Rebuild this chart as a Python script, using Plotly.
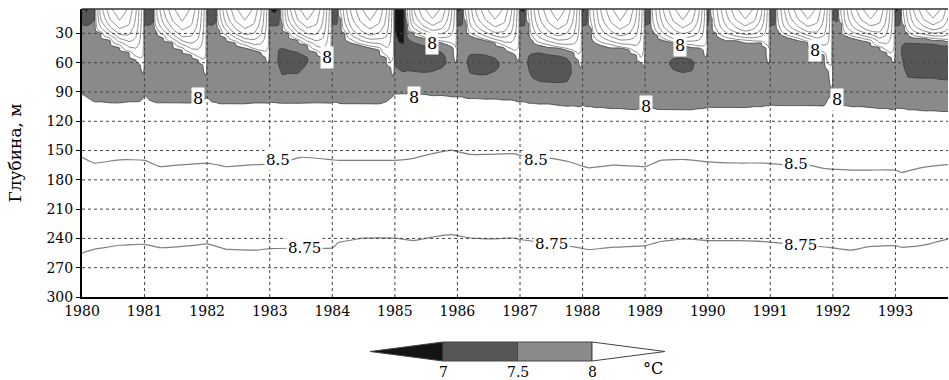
import numpy as np
import plotly.graph_objects as go

# ---------------- data ----------------
years = list(range(1980, 1994))
phase = [0.0, 0.07, 0.14, 0.2, 0.3, 0.45, 0.6, 0.75, 0.86, 0.93, 0.975]

# surface (5 m) temperature, degC, one row per year, one value per phase
sst = [
    [7.1, 6.9, 7.2, 7.4, 15.5, 21, 23.5, 21, 17, 13, 10],
    [7.1, 7.0, 7.3, 12, 16.5, 21, 23.5, 21, 17, 13, 10],
    [7.2, 7.0, 7.3, 11.5, 16.5, 21, 23.5, 21, 17, 13, 10],
    [7.0, 6.85, 7.0, 8.6, 15.5, 21, 23.5, 21, 17, 13, 10],
    [7.2, 7.1, 9.5, 13, 17, 21, 23.5, 21, 17, 13, 10],
    [6.7, 6.6, 6.8, 9, 16.5, 21, 23.5, 21, 17, 13, 10],
    [6.9, 7.0, 9.5, 13, 17, 21, 23.5, 21, 17, 13, 10],
    [6.95, 6.9, 9.5, 13, 17, 21, 23.5, 21, 17, 13, 10],
    [6.9, 7.1, 10, 13, 17, 21, 23.5, 21, 17, 13, 10],
    [7.1, 7.2, 10, 13, 17, 21, 23.5, 21, 17, 13, 10],
    [7.0, 8.5, 11, 13.5, 17, 21, 23.5, 21, 17, 13, 10],
    [7.0, 7.1, 10, 13, 17, 21, 23.5, 21, 17, 13, 10],
    [7.4, 7.3, 9.5, 13, 17, 21, 23.5, 21, 17, 13, 10],
    [6.9, 7.0, 9.5, 13, 17, 21, 23.5, 21, 17, 13, 10],
]
# depth of the upper 8 degC isotherm (0 = surface already below 8)
d8_top = [
    [0, 0, 0, 0, 30, 36, 43, 50, 56, 61, 71],
    [0, 0, 0, 28, 33, 40, 46, 52, 57, 62, 73],
    [0, 0, 0, 26, 33, 39, 43, 47, 50, 53, 60],
    [0, 0, 0, 20, 30, 37, 42, 49, 55, 58, 63],
    [0, 0, 15, 30, 38, 42, 44, 46, 55, 65, 74],
    [0, 0, 0, 20, 30, 34, 37, 39, 41, 45, 60],
    [0, 0, 18, 32, 34, 37, 40, 44, 48, 52, 58],
    [0, 0, 20, 36, 41, 43, 45, 47, 50, 56, 65],
    [0, 0, 25, 38, 41, 43, 45, 47, 52, 60, 63],
    [0, 0, 28, 32, 37, 40, 42, 43, 45, 47, 54],
    [0, 15, 30, 34, 36, 37, 38, 39, 40, 45, 61],
    [0, 0, 28, 32, 34, 36, 39, 45, 52, 68, 86],
    [0, 0, 20, 32, 34, 36, 38, 45, 50, 55, 60],
    [0, 0, 22, 30, 34, 35, 36, 37, 38, 40, 45],
]
# cold intermediate layer: minimum temperature and its depth
t_min = [
    [7.65, 7.65, 7.65, 7.65, 7.7, 7.7, 7.7, 7.7, 7.7, 7.7, 7.75],
    [7.65, 7.65, 7.65, 7.7, 7.7, 7.7, 7.7, 7.7, 7.7, 7.7, 7.75],
    [7.65, 7.65, 7.65, 7.7, 7.7, 7.7, 7.7, 7.7, 7.7, 7.7, 7.7],
    [7.65, 7.65, 7.45, 7.25, 7.25, 7.25, 7.45, 7.7, 7.7, 7.7, 7.7],
    [7.7, 7.65, 7.7, 7.7, 7.7, 7.7, 7.7, 7.7, 7.7, 7.7, 7.75],
    [7.2, 7.1, 7.05, 7.05, 7.05, 7.05, 7.15, 7.3, 7.55, 7.7, 7.7],
    [7.65, 7.65, 7.55, 7.3, 7.25, 7.25, 7.35, 7.6, 7.7, 7.7, 7.7],
    [7.65, 7.6, 7.4, 7.2, 7.05, 7.05, 7.05, 7.15, 7.6, 7.7, 7.7],
    [7.6, 7.65, 7.7, 7.7, 7.7, 7.7, 7.7, 7.7, 7.7, 7.7, 7.7],
    [7.65, 7.65, 7.7, 7.7, 7.6, 7.4, 7.35, 7.4, 7.6, 7.7, 7.7],
    [7.6, 7.7, 7.7, 7.7, 7.7, 7.7, 7.7, 7.7, 7.7, 7.7, 7.7],
    [7.6, 7.65, 7.7, 7.7, 7.7, 7.7, 7.7, 7.7, 7.7, 7.8, 8.05],
    [7.7, 7.7, 7.7, 7.7, 7.7, 7.7, 7.7, 7.7, 7.7, 7.7, 7.7],
    [7.6, 7.55, 7.3, 7.1, 7.05, 7.05, 7.05, 7.05, 7.05, 7.1, 7.2],
]
d_min = [
    [30, 30, 30, 30, 60, 62, 66, 70, 74, 78, 84],
    [30, 30, 30, 60, 62, 65, 68, 72, 75, 78, 86],
    [30, 30, 30, 60, 62, 65, 68, 70, 72, 75, 80],
    [30, 30, 58, 58, 56, 56, 56, 65, 70, 75, 80],
    [30, 30, 55, 60, 62, 65, 66, 68, 72, 78, 86],
    [45, 48, 50, 48, 48, 50, 52, 54, 60, 65, 75],
    [30, 30, 58, 60, 60, 60, 60, 65, 70, 72, 78],
    [30, 30, 60, 60, 58, 60, 60, 62, 70, 75, 82],
    [30, 30, 60, 62, 65, 66, 68, 70, 72, 78, 82],
    [30, 30, 60, 62, 62, 59, 59, 60, 70, 72, 78],
    [30, 55, 60, 62, 62, 62, 62, 62, 65, 70, 80],
    [30, 30, 60, 62, 62, 62, 64, 66, 70, 80, 91],
    [30, 30, 55, 60, 62, 62, 64, 66, 70, 72, 78],
    [30, 40, 48, 48, 46, 46, 46, 48, 48, 50, 52],
]
# depth of the lower 8 degC isotherm
d8_bot = [
    [92, 95, 98, 100, 100, 101, 101, 100, 100, 99, 96],
    [93, 98, 100, 101, 101, 101, 101, 101, 100, 98, 96],
    [96, 100, 101, 102, 102, 102, 102, 101, 101, 101, 101],
    [101, 101, 101, 101, 101, 101, 101, 101, 101, 101, 101],
    [101, 101, 102, 102, 102, 102, 102, 102, 100, 96, 93],
    [92, 91, 91, 91, 92, 92, 93, 93, 94, 95, 95],
    [95, 95, 96, 96, 96, 97, 97, 98, 98, 99, 100],
    [100, 100, 101, 101, 102, 102, 103, 104, 104, 105, 105],
    [104, 105, 105, 106, 106, 107, 107, 108, 108, 107, 106],
    [106, 106, 107, 108, 108, 108, 108, 108, 107, 107, 106],
    [106, 106, 106, 106, 106, 106, 106, 105, 105, 104, 104],
    [104, 104, 104, 104, 104, 104, 104, 104, 104, 96, 96],
    [100, 103, 104, 104, 105, 105, 106, 107, 107, 108, 108],
    [107, 107, 107, 108, 108, 109, 109, 110, 110, 110, 110],
]
# shape of the warm upper layer (fraction of depth -> fraction of excess temp)
upper_frac = [0.0, 0.35, 0.65, 0.85, 1.0]
upper_share = [1.0, 0.85, 0.6, 0.3, 0.0]
winter_shoulder = (25, 7.6)

# deep isotherms 8.5 and 8.75
t_deep = [1980.0, 1980.2, 1980.6, 1981.0, 1981.25, 1981.8, 1982.0, 1982.3, 1982.8,
          1983.0, 1983.5, 1984.0, 1984.1, 1984.5, 1985.0, 1985.3, 1985.6, 1985.9,
          1986.2, 1986.5, 1986.9, 1987.0, 1987.5, 1987.8, 1988.1, 1988.5, 1989.0,
          1989.25, 1989.65, 1990.0, 1990.5, 1990.9, 1991.2, 1991.6, 1991.9, 1992.3,
          1992.6, 1993.0, 1993.1, 1993.4, 1993.85]
d85 = [156, 162, 159, 160, 166, 163, 162, 166, 164, 163, 156, 159, 160, 160, 160,
       157, 152, 149, 153, 153, 152, 154.5, 157, 161, 167, 165, 166, 160, 158.6,
       161, 162, 162, 164, 165, 168, 170, 170, 170, 172, 167, 164]
d875 = [255, 251, 247, 246, 249.5, 247, 245.6, 251, 252, 250.4, 250, 249.7, 244,
        239.5, 239.5, 242, 238.5, 236, 239.5, 240.5, 239.5, 241, 245, 248, 251.4,
        249, 247.3, 243, 240.5, 242, 242, 243, 245, 247, 249, 252, 248, 247.3, 249,
        247.3, 240.5]

# contour labels (time, depth)
lab8_t = [1981.86, 1983.92, 1985.6, 1985.3, 1989.55, 1989.02, 1991.72, 1992.06]
lab8_d = [97, 55, 40, 96, 42, 105, 48, 98]
lab85_t = [1983.14, 1987.26, 1991.41]
lab85_d = [160, 160, 164]
lab875_t = [1983.55, 1987.5, 1991.48]
lab875_d = [250, 246, 247]

depth_ticks = [30, 60, 90, 120, 150, 180, 210, 240, 270, 300]
cbar_levels = [7, 7.5, 8]
cbar_colors = ["#141414", "#565656", "#8a8a8a", "#ffffff"]

# ---------------- build grids ----------------
depth_up = np.arange(5, 131, 2.5)
cols_t, cols_z = [], []
for i, yr in enumerate(years):
    for j, p in enumerate(phase):
        s, du = sst[i][j], d8_top[i][j]
        tm, dm, dl = t_min[i][j], d_min[i][j], d8_bot[i][j]
        if du > 0:
            pdp = [5 + f * (du - 5) for f in upper_frac]
            ptv = [8 + sh * (s - 8) for sh in upper_share]
        else:
            pdp, ptv = [5], [s]
            if tm >= 7.25:
                pdp.append(winter_shoulder[0])
                ptv.append(winter_shoulder[1])
        pdp += [dm, dl, 130]
        ptv += [tm, 8.0, 8.2]
        cols_t.append(yr + p)
        cols_z.append(np.interp(depth_up, pdp, ptv))
Z = np.array(cols_z).T

depth_deep = np.arange(110, 301, 5)
Zd = np.array([np.interp(depth_deep, [110, a, b, 300], [8.2, 8.5, 8.75, 8.9])
               for a, b in zip(d85, d875)]).T

SERIF = "DejaVu Serif"
fig = go.Figure()

fig.add_trace(go.Contour(
    x=cols_t, y=depth_up, z=Z,
    contours=dict(start=cbar_levels[0], end=cbar_levels[-1], size=0.5,
                  coloring="fill", showlines=True),
    colorscale=[[0, cbar_colors[0]], [0.25, cbar_colors[0]], [0.25, cbar_colors[1]],
                [0.5, cbar_colors[1]], [0.5, cbar_colors[2]], [0.75, cbar_colors[2]],
                [0.75, cbar_colors[3]], [1, cbar_colors[3]]],
    line=dict(color="#3a3a3a", width=0.8, smoothing=0.8),
    showscale=False, hoverinfo="skip",
))
fig.add_trace(go.Contour(
    x=cols_t, y=depth_up, z=Z,
    contours=dict(start=9, end=21.5, size=2.5, coloring="none"),
    line=dict(color="#8a8a8a", width=1, smoothing=0.8),
    showscale=False, hoverinfo="skip",
))
fig.add_trace(go.Contour(
    x=t_deep, y=depth_deep, z=Zd,
    contours=dict(start=8.5, end=8.75, size=0.25, coloring="none"),
    line=dict(color="#808080", width=1.2, smoothing=0.5),
    showscale=False, hoverinfo="skip",
))

# dashed grid above the fills
shapes = []
for yr in years[1:]:
    shapes.append(dict(type="line", xref="x", yref="paper", x0=yr, x1=yr, y0=0, y1=1,
                       line=dict(color="#444", width=1, dash="dot"), layer="above"))
for d in depth_ticks[:-1]:
    shapes.append(dict(type="line", xref="paper", yref="y", x0=0, x1=1, y0=d, y1=d,
                       line=dict(color="#444", width=1, dash="dot"), layer="above"))
# thin top frame line
shapes.append(dict(type="line", xref="paper", yref="paper", x0=0, x1=1, y0=1, y1=1,
                   line=dict(color="#333", width=1.5), layer="above"))

# ---- colour key drawn below the plot (pixel geometry -> paper coords) ----
PL, PR, PT, PB = 82, 948, 9, 297
def px(xp):
    return (xp - PL) / (PR - PL)
def py(yp):
    return (PB - yp) / (PB - PT)
kx0, kstep = 443, 74.5          # pixel of first level, pixels per 0.5 degC
ytop, ybot, ymid = 342, 361, 351.5
kxs = [kx0 + kstep * (lv - cbar_levels[0]) / 0.5 for lv in cbar_levels]
outline = dict(color="#444", width=1)
shapes.append(dict(type="path", xref="paper", yref="paper",
                   path=f"M {px(kxs[0] - 73)},{py(ymid)} L {px(kxs[0])},{py(ytop)} L {px(kxs[0])},{py(ybot)} Z",
                   fillcolor=cbar_colors[0], line=outline, layer="above"))
for k in range(len(cbar_levels) - 1):
    shapes.append(dict(type="rect", xref="paper", yref="paper",
                       x0=px(kxs[k]), x1=px(kxs[k + 1]), y0=py(ybot), y1=py(ytop),
                       fillcolor=cbar_colors[k + 1], line=outline, layer="above"))
shapes.append(dict(type="path", xref="paper", yref="paper",
                   path=f"M {px(kxs[-1] + 73)},{py(ymid)} L {px(kxs[-1])},{py(ytop)} L {px(kxs[-1])},{py(ybot)} Z",
                   fillcolor=cbar_colors[3], line=outline, layer="above"))

annotations = []
for lv, xk in zip(cbar_levels, kxs):
    annotations.append(dict(x=px(xk), y=py(371.5), xref="paper", yref="paper",
                            xanchor="center", yanchor="middle",
                            text=f"{lv:g}", showarrow=False,
                            font=dict(family=SERIF, size=14, color="black")))
annotations.append(dict(x=px(653), y=py(368), xref="paper", yref="paper", text="°C",
                        xanchor="center", yanchor="middle",
                        showarrow=False, font=dict(family=SERIF, size=16, color="black")))

for t, d in zip(lab8_t, lab8_d):
    annotations.append(dict(x=t, y=d, xref="x", yref="y", text="8", showarrow=False,
                            bgcolor="white", borderpad=1,
                            font=dict(family=SERIF, size=16, color="black")))
for t, d in zip(lab85_t, lab85_d):
    annotations.append(dict(x=t, y=d, xref="x", yref="y", text="8.5", showarrow=False,
                            bgcolor="white", borderpad=1,
                            font=dict(family=SERIF, size=15, color="black")))
for t, d in zip(lab875_t, lab875_d):
    annotations.append(dict(x=t, y=d, xref="x", yref="y", text="8.75", showarrow=False,
                            bgcolor="white", borderpad=1,
                            font=dict(family=SERIF, size=15, color="black")))

fig.update_layout(
    width=949, height=380,
    margin=dict(l=PL, r=949 - PR, t=PT, b=380 - PB),
    plot_bgcolor="white", paper_bgcolor="white",
    font=dict(family=SERIF, size=14, color="black"),
    showlegend=False, shapes=shapes, annotations=annotations,
)
fig.update_xaxes(range=[1980, 1993.84], tickvals=years, ticktext=[str(y) for y in years],
                 showgrid=False, zeroline=False, showline=True, linecolor="black",
                 linewidth=2, ticks="", tickfont=dict(family=SERIF, size=14))
fig.update_yaxes(range=[300, 5], tickvals=depth_ticks, showgrid=False, zeroline=False,
                 showline=True, linecolor="black", linewidth=2, ticks="outside",
                 ticklen=4, tickcolor="black", tickfont=dict(family=SERIF, size=14),
                 title=dict(text="Глубина, м", font=dict(family=SERIF, size=17), standoff=21))

fig.write_html("out.html", config={"displayModeBar": False},
               post_script="document.body.style.margin='0px';"
                           "document.body.style.overflow='hidden';")
